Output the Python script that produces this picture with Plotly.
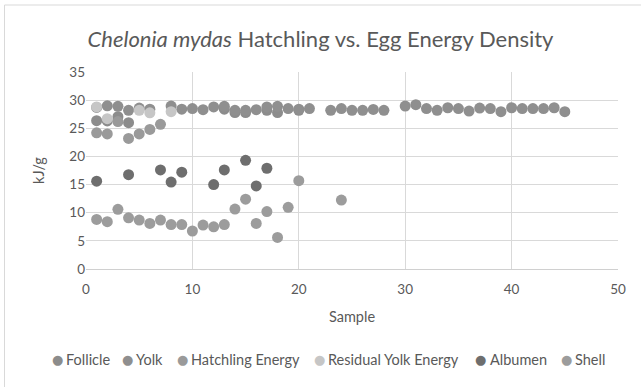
import plotly.graph_objects as go

yolk_x = [1,2,3,4,5,6,8,9,10,11,12,13,14,15,16,17,18,19,20,21,23,24,25,26,27,28,
          30,31,32,33,34,35,36,37,38,39,40,41,42,43,44,45]
yolk_y = [28.7,29.0,28.9,28.2,28.6,28.4,28.95,28.4,28.5,28.3,28.8,28.9,28.2,28.2,28.3,28.8,28.9,28.5,28.4,28.5,
          28.2,28.5,28.2,28.2,28.35,28.2,
          28.95,29.2,28.5,28.2,28.65,28.5,28.05,28.6,28.5,27.95,28.65,28.5,28.5,28.5,28.65,27.95]

follicle_x = [1,2,3,4,13,14,15,17,18,20]
follicle_y = [26.35,26.3,27.05,26.0,28.4,27.8,27.8,28.2,27.8,28.2]

hatch_x = [1,2,3,4,5,6,7]
hatch_y = [24.2,24.0,26.2,23.2,24.0,24.8,25.7]

resid_x = [1,2,5,6,8]
resid_y = [28.8,26.7,28.2,27.75,27.95]

alb_x = [1,4,7,8,9,12,13,15,16,17]
alb_y = [15.6,16.75,17.6,15.45,17.2,15.0,17.6,19.3,14.75,17.9]

shell_x = [1,2,3,4,5,6,7,8,9,10,11,12,13,14,15,16,17,18,19,20,24]
shell_y = [8.8,8.4,10.6,9.1,8.7,8.1,8.7,7.9,7.9,6.75,7.8,7.5,7.9,10.65,12.4,8.1,10.2,5.6,10.95,15.7,12.25]

series_names = ["Follicle", "Yolk", "Hatchling Energy", "Residual Yolk Energy", "Albumen", "Shell"]
series_x = [follicle_x, yolk_x, hatch_x, resid_x, alb_x, shell_x]
series_y = [follicle_y, yolk_y, hatch_y, resid_y, alb_y, shell_y]
colors = ["#8c8c8c", "#8f8f8f", "#9a9a9a", "#c6c6c6", "#6e6e6e", "#9c9c9c"]

# legend layout (pixel positions of marker centres in the 641px-wide figure)
legend_marker_px = [57, 127, 182, 319, 481, 566]

W, H = 641, 387
L, R, T, B = 86, 23, 72, 118
pw, ph = W - L - R, H - T - B

fig = go.Figure()
for name, xs, ys, col in zip(series_names, series_x, series_y, colors):
    fig.add_trace(go.Scatter(x=xs, y=ys, mode="markers", name=name, showlegend=False,
                             marker=dict(size=11, color=col, line=dict(width=0))))

font = "Lato, 'Open Sans', sans-serif"
fig.update_layout(
    width=W, height=H,
    margin=dict(l=L, r=R, t=T, b=B),
    paper_bgcolor="white", plot_bgcolor="white",
    font=dict(family=font, color="#595959", size=13),
    title=dict(text="<i>Chelonia mydas</i> Hatchling vs. Egg Energy Density",
               x=0.5, xanchor="center", y=1 - 39/H, yanchor="middle",
               font=dict(size=22, color="#595959", family=font)),
    showlegend=False,
    xaxis=dict(range=[0, 50], dtick=10, showgrid=True, gridcolor="#d9d9d9", gridwidth=1,
               zeroline=False, showline=True, linecolor="#d0d0d0", mirror=False,
               ticks="outside", ticklen=8, tickcolor="rgba(0,0,0,0)",
               title=dict(text="Sample", font=dict(size=14.5, color="#595959"), standoff=15),
               tickfont=dict(size=13.5, color="#595959")),
    yaxis=dict(range=[0, 35], dtick=5, showgrid=True, gridcolor="#d9d9d9", gridwidth=1,
               zeroline=False, showline=False, ticks="",
               title=dict(text="kJ/g", font=dict(size=14.5, color="#595959"), standoff=21),
               tickfont=dict(size=13.5, color="#595959")),
)

# manual single-row legend
leg_y = 1 - (359 - T) / ph  # paper y of legend centre
for name, col, mx in zip(series_names, colors, legend_marker_px):
    fig.add_annotation(xref="paper", yref="paper", x=(mx - L) / pw, y=leg_y,
                       text="●", showarrow=False, xanchor="center", yanchor="middle",
                       font=dict(size=13, color=col, family="DejaVu Sans"))
    fig.add_annotation(xref="paper", yref="paper", x=(mx + 9 - L) / pw, y=leg_y,
                       text=name, showarrow=False, xanchor="left", yanchor="middle",
                       xshift=-2, font=dict(size=14.5, color="#595959", family=font))

fig.add_shape(type="rect", xref="paper", yref="paper",
              x0=-(L - 4.5) / pw, x1=1.2, y0=-1.0, y1=1 + (T - 5) / ph,
              line=dict(color="#d9d9d9", width=1), fillcolor="rgba(0,0,0,0)", layer="below")
fig.write_html("out.html")
